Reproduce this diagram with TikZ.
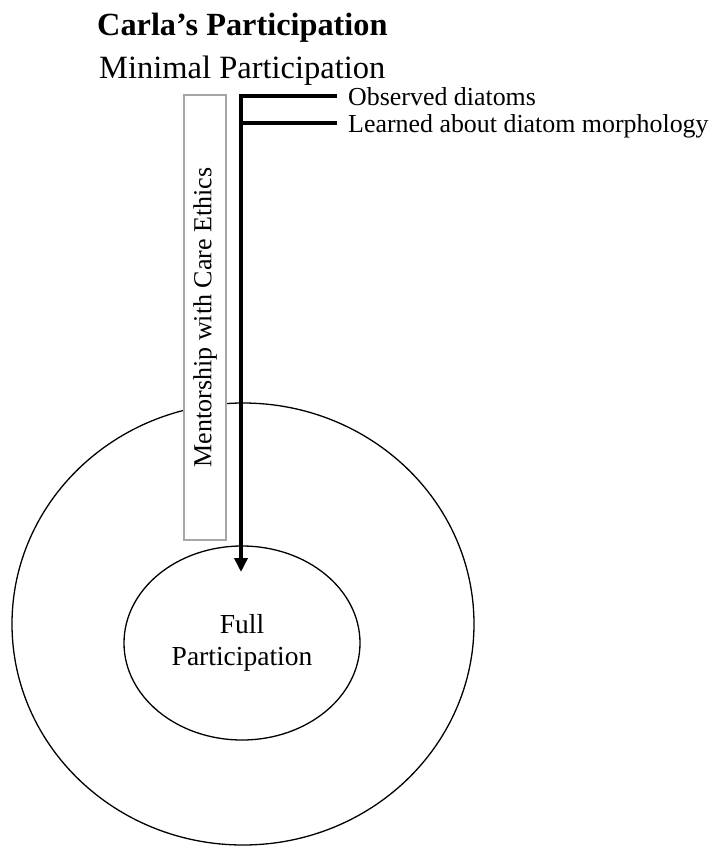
\documentclass[tikz,border=0pt]{standalone}
\usepackage{fontspec}
\setmainfont{Liberation Serif}
\usetikzlibrary{shapes.geometric,arrows.meta}

\tikzset{
    ring/.style={draw, ellipse, line width=1.3pt, inner sep=0pt},
    flow/.style={line width=3.5pt},
    note/.style={anchor=west, inner ysep=0pt, inner xsep=11pt,
        text height=18pt, text depth=0pt, font=\fontsize{25.9}{30}\selectfont},
    heading/.style={anchor=base west, inner sep=0pt, font=\fontsize{32.5}{38}\selectfont}
}

\begin{document}
\begin{tikzpicture}[x=1pt, y=-1pt, >={Triangle[length=14pt,width=13pt]}]
    \useasboundingbox (0,0) rectangle (714,846);

    % Headings
    \node[heading, font=\fontsize{32.3}{38}\selectfont\bfseries] (title) at (97,35) {Carla's Participation};
    \node[heading] (minimal) at (99,78) {Minimal Participation};

    % Circles of participation
    \node[ring, minimum width=462pt, minimum height=442pt] (outer) at (243,624) {};
    \node[ring, minimum width=236pt, minimum height=194pt, align=center,
        font=\fontsize{27.5}{32}\selectfont] (full) at (242,643) {Full\\Participation};

    % Mentorship box (rotated text)
    \node[draw=gray!70, line width=1.2pt, fill=white, rotate=90, minimum width=445pt,
        minimum height=42pt, font=\fontsize{26}{30}\selectfont] (mentor) at (205,317.5)
        {Mentorship with Care Ethics};

    % Activities
    \node[note] (observed) at (337,96) {Observed diatoms};
    \node[note] (learned) at (337,123) {Learned about diatom morphology};

    % Path towards full participation
    \coordinate (top) at (241,96);
    \coordinate (branch) at (241,123);
    \coordinate (tip) at (241,572);
    \draw[flow, ->] (observed.west) -- (top) -- (tip);
    \draw[flow] (learned.west) -- (branch);
\end{tikzpicture}
\end{document}
